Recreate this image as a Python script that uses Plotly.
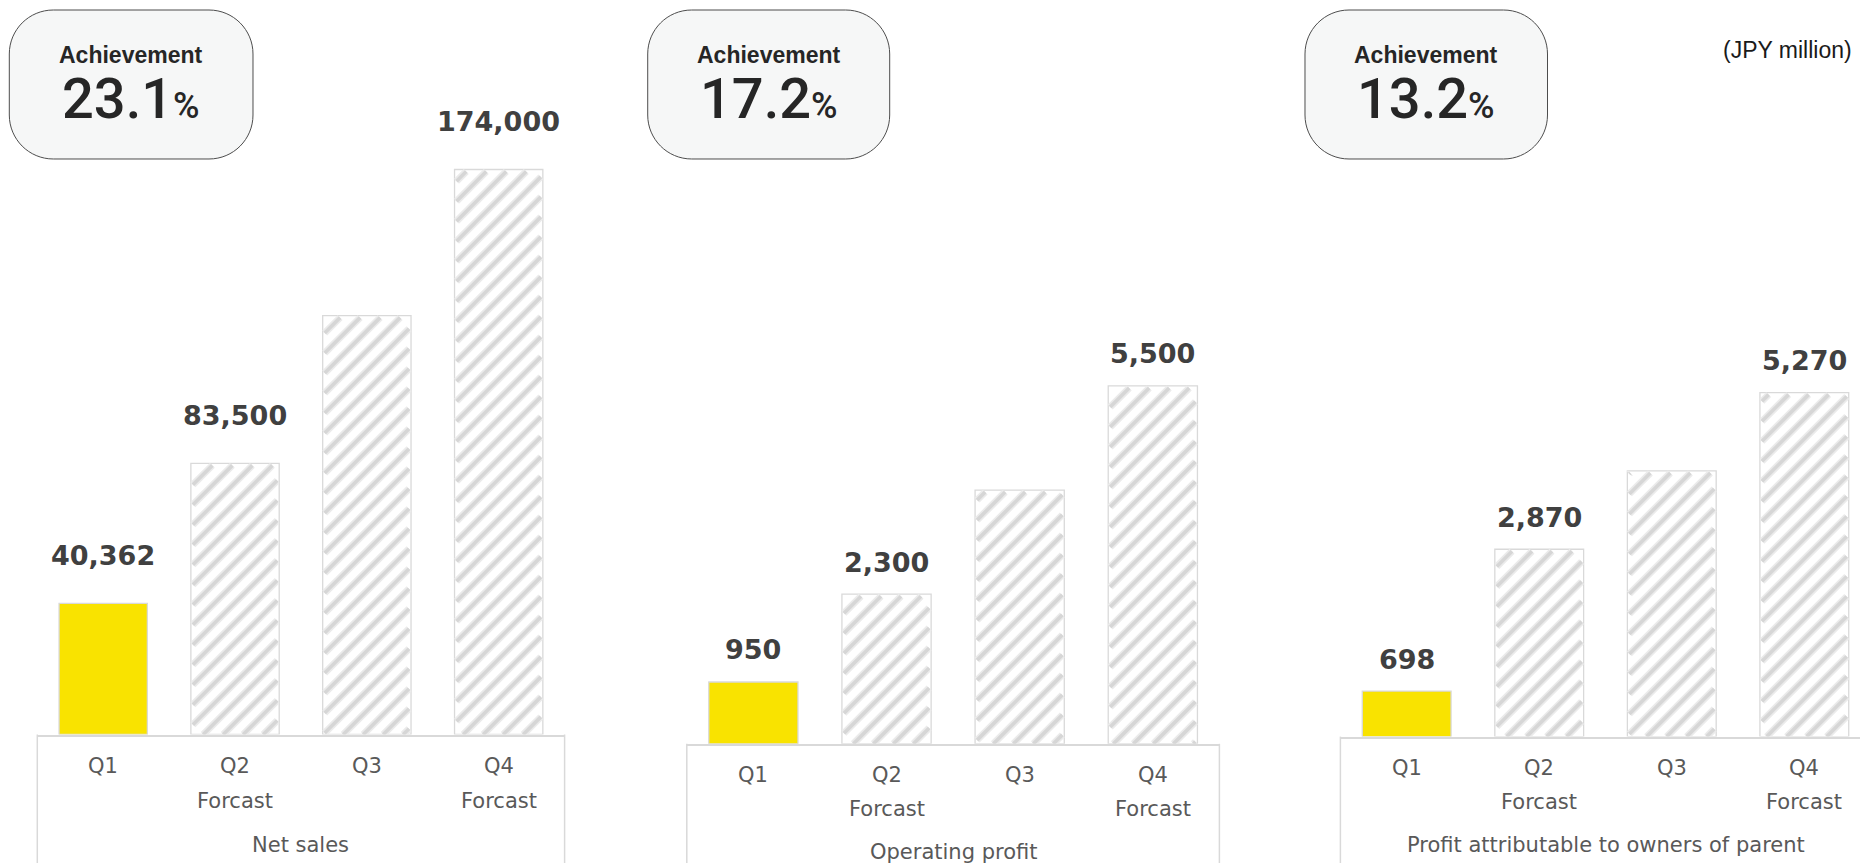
import plotly.graph_objects as go

# ---- data -------------------------------------------------------------
categories = ["Q1", "Q2", "Q3", "Q4"]
sub_labels = ["", "Forcast", "", "Forcast"]
labelled = [True, True, False, True]          # which bars carry a value label

net_sales = [40362, 83500, 129000, 174000]
operating_profit = [950, 2300, 3900, 5500]
profit_owners = [698, 2870, 4070, 5270]

achievement = [23.1, 17.2, 13.2]
panel_titles = ["Net sales", "Operating profit", "Profit attributable to owners of parent"]
unit_note = "(JPY million)"

# ---- styling ----------------------------------------------------------
W, H = 1860, 863
ACTUAL = "#F9E300"
HATCH = "#d6d6d6"
HATCH_SOFT = "#ebebeb"
EDGE = "#d9d9d9"
TEXT_DARK = "#404040"
TEXT_CAT = "#595959"
BAR_WIDTH = 0.67
STRIPE_PERIOD = 20      # px between diagonal stripes (horizontal)
STRIPE_INSET = 2.0      # px kept free inside the bar outline


def px(x):
    return x / W


def py(y):
    return 1 - y / H


# per-panel geometry (pixels) and axis ranges
panels = [
    dict(values=net_sales, xdom=(37.3, 564.6), base=734.5, ymax=226200,
         xmax=3.5, shift=48, badge=(9.3, 10, 253, 159), rows=(766.3, 800.7, 844.6)),
    dict(values=operating_profit, xdom=(686.8, 1219.4), base=743.8, ymax=11432,
         xmax=3.5, shift=32, badge=(647.7, 10, 889.7, 159), rows=(774.6, 809.0, 851.7)),
    dict(values=profit_owners, xdom=(1340.4, 1860), base=736.6, ymax=11285,
         xmax=3.42, shift=32, badge=(1305.0, 10, 1547.5, 159), rows=(767.5, 801.9, 844.6)),
]


def rounded_rect(x0, y0, x1, y1, r):
    k = 0.5523 * r
    pts = [
        ("M", [(x0 + r, y0)]),
        ("L", [(x1 - r, y0)]),
        ("C", [(x1 - r + k, y0), (x1, y0 + r - k), (x1, y0 + r)]),
        ("L", [(x1, y1 - r)]),
        ("C", [(x1, y1 - r + k), (x1 - r + k, y1), (x1 - r, y1)]),
        ("L", [(x0 + r, y1)]),
        ("C", [(x0 + r - k, y1), (x0, y1 - r + k), (x0, y1 - r)]),
        ("L", [(x0, y0 + r)]),
        ("C", [(x0, y0 + r - k), (x0 + r - k, y0), (x0 + r, y0)]),
    ]
    out = []
    for cmd, coords in pts:
        out.append(cmd + " ".join(f"{px(a):.5f},{py(b):.5f}" for a, b in coords))
    return " ".join(out) + " Z"


def hatch_segments(idx, value, ux, uy):
    """45-degree stripes clipped to one bar; returns data-space x/y lists."""
    left = (idx - BAR_WIDTH / 2) / ux + STRIPE_INSET
    right = (idx + BAR_WIDTH / 2) / ux - STRIPE_INSET
    top = value / uy - STRIPE_INSET
    bottom = 0.0
    xs, ys = [], []
    k0 = int((left - top) // STRIPE_PERIOD) - 1
    k1 = int(right // STRIPE_PERIOD) + 1
    for k in range(k0, k1 + 1):
        c = k * STRIPE_PERIOD           # line: X = Y + c
        y_lo = max(bottom, left - c)
        y_hi = min(top, right - c)
        if y_hi - y_lo <= 0.5:
            continue
        xs += [(y_lo + c) * ux, (y_hi + c) * ux, None]
        ys += [y_lo * uy, y_hi * uy, None]
    return xs, ys


fig = go.Figure()
annotations = []
shapes = []
layout_axes = {}
positions = list(range(len(categories)))

for i, p in enumerate(panels):
    n = i + 1
    xa = "x" if n == 1 else f"x{n}"
    ya = "y" if n == 1 else f"y{n}"
    xkey = "xaxis" if n == 1 else f"xaxis{n}"
    ykey = "yaxis" if n == 1 else f"yaxis{n}"

    colors = [ACTUAL if j == 0 else "white" for j in positions]

    fig.add_trace(go.Bar(
        x=positions, y=p["values"], xaxis=xa, yaxis=ya, width=BAR_WIDTH,
        marker=dict(color=colors, line=dict(color=EDGE, width=1.3)),
        hoverinfo="skip",
    ))

    # diagonal hatching on the forecast bars (soft halo + core stroke)
    dom_px = p["xdom"][1] - p["xdom"][0]
    ux = (p["xmax"] + 0.5) / dom_px          # category units per pixel
    uy = p["ymax"] / p["base"]               # value units per pixel
    hx, hy = [], []
    for j, v in zip(positions, p["values"]):
        if j == 0:
            continue
        sx, sy = hatch_segments(j, v, ux, uy)
        hx += sx
        hy += sy
    for color, lw in ((HATCH_SOFT, 7), (HATCH, 3.6)):
        fig.add_trace(go.Scatter(
            x=hx, y=hy, xaxis=xa, yaxis=ya, mode="lines",
            line=dict(color=color, width=lw), hoverinfo="skip",
        ))

    layout_axes[xkey] = dict(
        domain=[px(p["xdom"][0]), px(p["xdom"][1])], anchor=ya,
        range=[-0.5, p["xmax"]], type="linear",
        showline=True, linecolor=EDGE, linewidth=1.5,
        showticklabels=False, ticks="", showgrid=False, zeroline=False,
    )
    layout_axes[ykey] = dict(
        domain=[py(p["base"]), 1], anchor=xa, range=[0, p["ymax"]],
        visible=False, showgrid=False, zeroline=False,
    )

    # value labels above the bars
    for j, v, show in zip(positions, p["values"], labelled):
        if show:
            annotations.append(dict(
                x=j, y=v, xref=xa, yref=ya, text=f"{v:,}", showarrow=False,
                xanchor="center", yshift=p["shift"], yanchor="middle",
                font=dict(family="DejaVu Sans", size=27, color=TEXT_DARK, weight="bold"),
            ))

    # category rows beneath the axis
    r1, r2, r3 = p["rows"]
    cat_font = dict(family="DejaVu Sans", size=21, color=TEXT_CAT)
    for j, cat, sub in zip(positions, categories, sub_labels):
        annotations.append(dict(
            x=j, y=py(r1), xref=xa, yref="paper", text=cat, showarrow=False,
            xanchor="center", yanchor="middle", font=cat_font,
        ))
        if sub:
            annotations.append(dict(
                x=j, y=py(r2), xref=xa, yref="paper", text=sub, showarrow=False,
                xanchor="center", yanchor="middle", font=cat_font,
            ))
    annotations.append(dict(
        x=1.5, y=py(r3), xref=xa, yref="paper", text=panel_titles[i], showarrow=False,
        xanchor="center", yanchor="middle", font=cat_font,
    ))

    # side walls of the category box
    for xd in (0, 1):
        if n == 3 and xd == 1:
            continue
        shapes.append(dict(
            type="line", xref=f"{xa} domain", yref="paper",
            x0=xd, x1=xd, y0=py(p["base"]), y1=0,
            line=dict(color=EDGE, width=1.5),
        ))

    # achievement badge
    bx0, by0, bx1, by1 = p["badge"]
    shapes.append(dict(
        type="path", xref="paper", yref="paper",
        path=rounded_rect(bx0, by0, bx1, by1, 44),
        fillcolor="#f6f7f7", line=dict(color="#4d4d4d", width=1),
    ))
    cx = (bx0 + bx1) / 2
    annotations.append(dict(
        x=px(cx), y=py(55), xref="paper", yref="paper", text="Achievement",
        showarrow=False, xanchor="center", yanchor="middle",
        font=dict(family="Liberation Sans", size=23, color="#262626", weight="bold"),
    ))
    annotations.append(dict(
        x=px(cx), y=py(99), xref="paper", yref="paper",
        text=f"{achievement[i]:.1f}<span style='font-size:36px'>%</span>",
        showarrow=False, xanchor="center", yanchor="middle",
        font=dict(family="Roboto", size=56, color="#262626", weight=500),
    ))

annotations.append(dict(
    x=px(1854), y=py(50), xref="paper", yref="paper", text=unit_note,
    showarrow=False, xanchor="right", yanchor="middle",
    font=dict(family="Liberation Sans", size=23, color="#1a1a1a"),
))

fig.update_layout(
    width=W, height=H, margin=dict(l=0, r=0, t=0, b=0),
    paper_bgcolor="white", plot_bgcolor="white",
    showlegend=False, barmode="overlay",
    annotations=annotations, shapes=shapes,
    **layout_axes,
)

fig.write_html("out.html")
